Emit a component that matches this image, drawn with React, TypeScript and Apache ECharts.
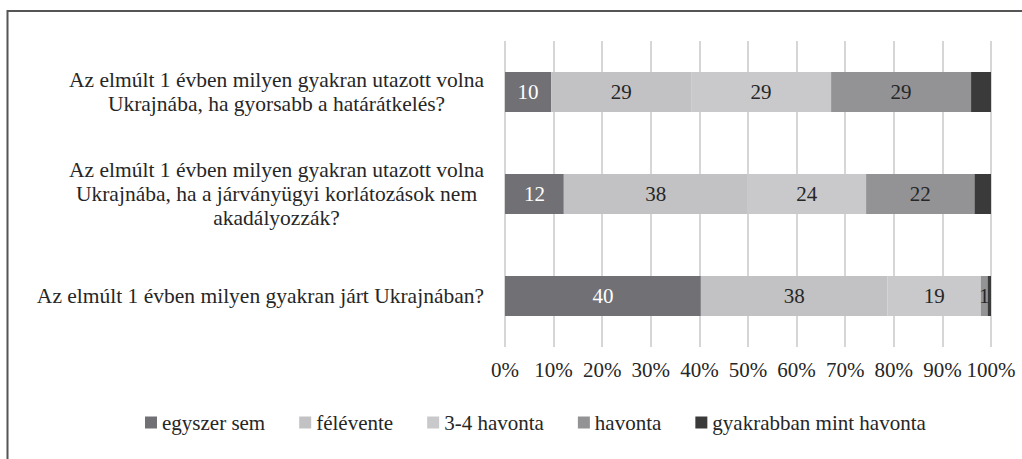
import React, { useEffect, useRef } from "react";
import * as echarts from "echarts";

const categories = [
  "Az elmúlt 1 évben milyen gyakran utazott volna\nUkrajnába, ha gyorsabb a határátkelés?",
  "Az elmúlt 1 évben milyen gyakran utazott volna\nUkrajnába, ha a járványügyi korlátozások nem\nakadályozzák?",
  "Az elmúlt 1 évben milyen gyakran járt Ukrajnában?",
];

const seriesNames = [
  "egyszer sem",
  "félévente",
  "3-4 havonta",
  "havonta",
  "gyakrabban mint havonta",
];

const egyszerSem = [9.5, 12.1, 40.3];
const felevente = [28.8, 37.8, 38.4];
const havonta34 = [28.8, 24.4, 19.2];
const havonta = [28.8, 22.3, 1.4];
const gyakrabban = [4.1, 3.4, 0.7];

const xTicks = [0, 10, 20, 30, 40, 50, 60, 70, 80, 90, 100];

const FONT = "Liberation Serif";
const TEXT = "#262626";

export default function App() {
  const ref = useRef<HTMLDivElement>(null);

  useEffect(() => {
    if (!ref.current) return;
    const chart = echarts.init(ref.current, undefined, { renderer: "svg" });

    const values = [egyszerSem, felevente, havonta34, havonta, gyakrabban];
    const colors = ["#717175", "#c2c2c4", "#c9c9cb", "#939396", "#3a3a3a"];
    const labelColors = ["#ffffff", TEXT, TEXT, TEXT, TEXT];

    const series = values.map((data, i) => ({
      name: seriesNames[i],
      type: "bar",
      stack: "total",
      barWidth: 40,
      data,
      itemStyle: { color: colors[i] },
      label: {
        show: i < 4,
        position: "inside",
        formatter: (p: any) => String(Math.round(p.value)),
        color: labelColors[i],
        fontFamily: FONT,
        fontSize: 21,
      },
      emphasis: { disabled: true },
    }));

    chart.setOption({
      animation: false,
      backgroundColor: "#ffffff",
      textStyle: { fontFamily: FONT },
      grid: { left: 505, right: 31, top: 41, bottom: 112, containLabel: false },
      xAxis: {
        type: "value",
        min: 0,
        max: 100,
        interval: 10,
        axisLine: { show: false },
        axisTick: { show: false },
        splitLine: { show: true, lineStyle: { color: "#d6d6d6", width: 2 } },
        axisLabel: {
          formatter: (v: number) => (xTicks.includes(v) ? v + "%" : ""),
          fontFamily: FONT,
          fontSize: 21,
          color: TEXT,
          margin: 12,
        },
      },
      yAxis: {
        type: "category",
        inverse: true,
        data: categories,
        axisLine: { show: false },
        axisTick: { show: false },
        axisLabel: {
          margin: 21,
          fontFamily: FONT,
          fontSize: 21.5,
          formatter: (v: string) =>
            v
              .split("\n")
              .map((l) => `{c|${l}}`)
              .join("\n"),
          rich: {
            c: {
              align: "center",
              fontFamily: FONT,
              fontSize: 21.5,
              lineHeight: 24,
              color: TEXT,
            },
          },
        },
      },
      legend: {
        left: 145,
        top: 412,
        padding: 0,
        itemWidth: 12,
        itemHeight: 12,
        itemGap: 34,
        icon: "rect",
        data: seriesNames,
        selectedMode: false,
        textStyle: { fontFamily: FONT, fontSize: 21, color: TEXT },
      },
      graphic: [
        {
          type: "polyline",
          shape: { points: [[7.5, 459], [7.5, 11], [1022, 11]] },
          style: { stroke: "#555555", lineWidth: 2, fill: "none" },
          silent: true,
        },
      ],
      series,
    });

    return () => chart.dispose();
  }, []);

  return (
    <div
      ref={ref}
      style={{ position: "fixed", left: 0, top: 0, width: 1022, height: 459 }}
    />
  );
}
